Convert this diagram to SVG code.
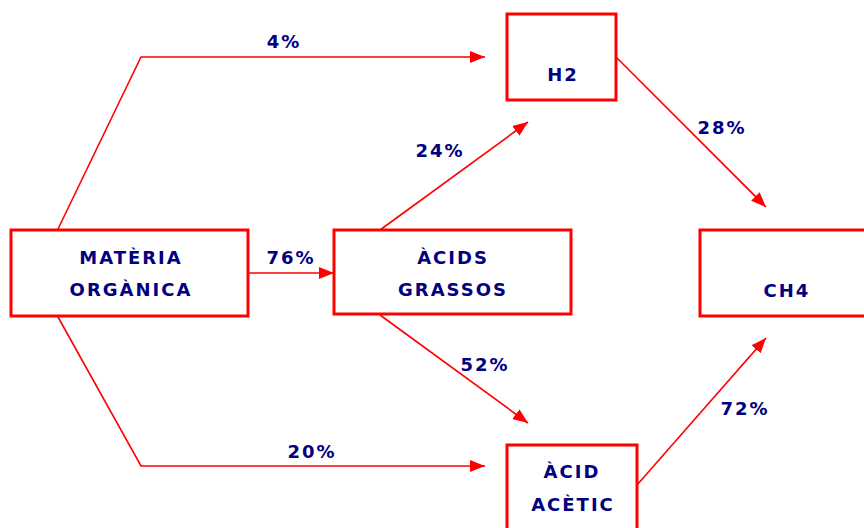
<svg xmlns="http://www.w3.org/2000/svg" width="864" height="528" viewBox="0 0 864 528">
<style>
.box{fill:#fff;stroke:#ff0000;stroke-width:3}
.t{font-family:"DejaVu Sans",Verdana,sans-serif;font-weight:bold;font-size:18px;fill:#000080;text-anchor:middle;letter-spacing:2px}
.c{fill:none;stroke:#ff0000;stroke-width:1.6}
</style>
<defs>
<marker id="ah" markerUnits="userSpaceOnUse" markerWidth="16" markerHeight="12" refX="15" refY="6" orient="auto">
<path d="M0,0 L15,6 L0,12 Z" fill="#ff0000"/>
</marker>
</defs>
<rect width="864" height="528" fill="#fff"/>
<g id="connectors">
<polyline class="c" points="58,229 141,57 485,57" marker-end="url(#ah)"/>
<polyline class="c" points="58,317 141,466 485,466" marker-end="url(#ah)"/>
<line class="c" x1="248" y1="273" x2="334" y2="273" marker-end="url(#ah)"/>
<line class="c" x1="380" y1="230" x2="528" y2="122" marker-end="url(#ah)"/>
<line class="c" x1="380" y1="315" x2="528" y2="423" marker-end="url(#ah)"/>
<line class="c" x1="616" y1="57" x2="766" y2="207" marker-end="url(#ah)"/>
<line class="c" x1="637" y1="485" x2="766" y2="338" marker-end="url(#ah)"/>
<text class="t" x="284" y="48">4%</text>
<text class="t" x="291" y="264">76%</text>
<text class="t" x="440" y="157">24%</text>
<text class="t" x="485" y="371">52%</text>
<text class="t" x="312" y="458">20%</text>
<text class="t" x="722" y="134">28%</text>
<text class="t" x="745" y="415">72%</text>
</g>
<g id="materia">
<rect class="box" x="11" y="230" width="237" height="86"/>
<text class="t" x="131" y="264">MATÈRIA</text>
<text class="t" x="131" y="296">ORGÀNICA</text>
</g>
<g id="acids">
<rect class="box" x="334" y="230" width="237" height="84"/>
<text class="t" x="453" y="264">ÀCIDS</text>
<text class="t" x="453" y="296">GRASSOS</text>
</g>
<g id="h2">
<rect class="box" x="507" y="14" width="109" height="86"/>
<text class="t" x="563" y="81">H2</text>
</g>
<g id="ch4">
<rect class="box" x="700" y="230" width="170" height="86"/>
<text class="t" x="787" y="297">CH4</text>
</g>
<g id="acetic">
<rect class="box" x="507" y="445" width="130" height="100"/>
<text class="t" x="572" y="478">ÀCID</text>
<text class="t" x="573" y="511">ACÈTIC</text>
</g>
</svg>
